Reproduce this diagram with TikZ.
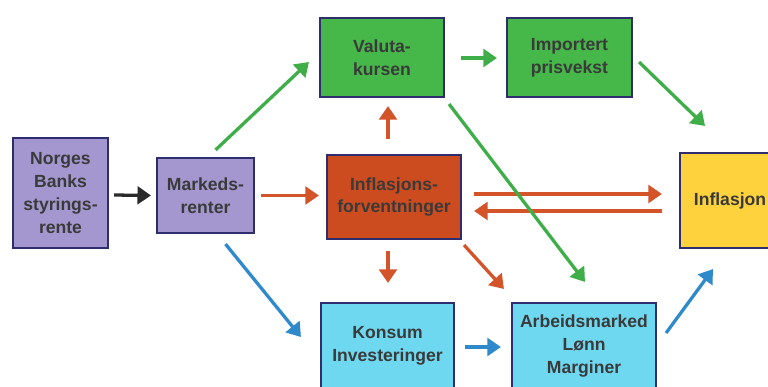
\documentclass[tikz,border=0pt]{standalone}
\usepackage{fontspec}
\setmainfont{Liberation Sans}
\usetikzlibrary{arrows.meta,calc}
\definecolor{bord}{HTML}{2E2D6E}
\definecolor{purp}{HTML}{A497CF}
\definecolor{grn}{HTML}{46B749}
\definecolor{org}{HTML}{CC4B1F}
\definecolor{cyn}{HTML}{6ED8F0}
\definecolor{yel}{HTML}{FDD23C}
\definecolor{agrn}{HTML}{3FAE49}
\definecolor{aorg}{HTML}{D4542A}
\definecolor{ablu}{HTML}{2F8ACB}
\definecolor{ablk}{HTML}{2A2A2A}
\definecolor{txt}{HTML}{3A3A3A}
\tikzset{
  box/.style={draw=bord, line width=1.8pt, inner sep=0pt, align=center,
    font=\fontsize{15}{19.5}\selectfont\bfseries, text=txt},
  arr/.style={line width=2.8pt, -{Triangle[length=11.5pt,width=15pt]}},
}
\begin{document}
\begin{tikzpicture}[x=0.03cm,y=-0.03cm]
\useasboundingbox (0,0) rectangle (768,386);
\clip (0,0) rectangle (768,386);
\fill[white] (0,0) rectangle (768,386);
\node[box, fill=purp, minimum width=95*0.03cm, minimum height=110*0.03cm] (norges) at (60.5,193) {Norges\\Banks\\styrings-\\rente};
\node[box, fill=purp, minimum width=97*0.03cm, minimum height=75*0.03cm] (markeds) at (205.5,195.5) {Markeds-\\renter};
\node[box, fill=grn, minimum width=124*0.03cm, minimum height=79*0.03cm] (valuta) at (382,57.5) {Valuta-\\kursen};
\node[box, fill=grn, minimum width=125*0.03cm, minimum height=79*0.03cm] (import) at (569.5,57.5) {Importert\\prisvekst};
\node[box, fill=org, minimum width=134*0.03cm, minimum height=84*0.03cm] (forv) at (394,197) {Inflasjons-\\forventninger};
\node[box, fill=yel, minimum width=100*0.03cm, minimum height=95*0.03cm] (infl) at (730,200.5) {Inflasjon};
\node[box, fill=cyn, minimum width=133*0.03cm, minimum height=86*0.03cm] (konsum) at (387.5,346) {Konsum\\Investeringer};
\node[box, fill=cyn, minimum width=144*0.03cm, minimum height=86*0.03cm] (arb) at (584,346) {Arbeidsmarked\\Lønn\\Marginer};

\draw[arr, ablk] ($(norges.east)+(5,2)$) -- ($(markeds.west)+(-5,0)$);
\draw[arr, aorg] ($(markeds.east)+(6,0)$) -- ($(forv.west)+(-7,-1.5)$);
\draw[arr, agrn] ($(markeds.north)+(10,-7)$) -- ($(valuta.west)+(-10,4.5)$);
\draw[arr, ablu] ($(markeds.south)+(20,10)$) -- ($(konsum.west)+(-19,-9)$);
\draw[arr, agrn] ($(valuta.east)+(16,0.5)$) -- ($(import.west)+(-9,0.5)$);
\draw[arr, agrn] ($(import.east)+(6,4.5)$) -- ($(infl.north)+(-25,-26)$);
\draw[arr, aorg] ($(forv.north)+(-6,-15)$) -- ($(valuta.south)+(6,8)$);
\draw[arr, aorg] ($(forv.east)+(12,-3)$) -- ($(infl.west)+(-17,-6.5)$);
\draw[arr, aorg] ($(infl.west)+(-17,10.5)$) -- ($(forv.east)+(12,14)$);
\draw[arr, aorg] ($(forv.south)+(-6,11)$) -- ($(konsum.north)+(0.5,-19)$);
\draw[arr, aorg] ($(forv.south east)+(2,5)$) -- ($(arb.north west)+(-7,-13)$);
\draw[arr, agrn] ($(valuta.south east)+(4,6)$) -- ($(arb.north)+(1,-20)$);
\draw[arr, ablu] ($(konsum.east)+(10,1)$) -- ($(arb.west)+(-10,1)$);
\draw[arr, ablu] ($(arb.east)+(9,-13)$) -- ($(infl.south)+(-17,20)$);
\end{tikzpicture}
\end{document}
